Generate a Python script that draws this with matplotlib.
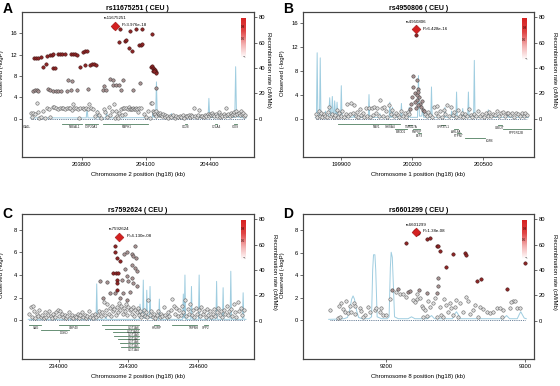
import matplotlib
matplotlib.use("Agg")
import matplotlib.pyplot as plt
import numpy as np
from matplotlib.colors import LinearSegmentedColormap

plt.rcParams['font.family'] = ['Liberation Sans', 'DejaVu Sans']

# ---------------- panel A : rs11675251, chr2 ----------------
a_lead = (203955, 17.4)
a_hi = [(203580, 11.3), (203588, 11.3), (203596, 11.3), (203621, 9.7), (203634, 10.2), (203610, 11.5),
        (203640, 11.8), (203652, 11.9), (203660, 12.0), (203668, 12.1), (203668, 9.5), (203676, 9.5),
        (203691, 12.1), (203700, 12.1), (203710, 12.1), (203722, 12.2), (203753, 12.1), (203762, 12.1),
        (203770, 12.1), (203777, 12.0), (203792, 9.7), (203808, 12.5), (203818, 12.7), (203826, 12.6),
        (203815, 10.0), (203839, 10.1), (203848, 10.3), (203858, 10.2), (203866, 10.1),
        (203950, 17.2), (203958, 17.5), (203962, 17.3), (203982, 16.8), (204025, 16.5), (204053, 16.8),
        (204084, 16.8), (204128, 15.8), (203976, 14.4), (204003, 14.6), (204010, 14.8), (204022, 13.2),
        (204038, 12.7), (204069, 13.8), (204076, 13.9), (204084, 14.0),
        (204126, 9.7), (204130, 9.8), (204135, 9.5), (204140, 9.3), (204143, 9.1), (204147, 8.8),
        (204150, 8.5), (204132, 9.0), (204137, 8.9)]
a_mid = [(203575, 5.2), (203583, 5.4), (203590, 5.3), (203598, 5.1), (203645, 5.6), (203652, 5.4),
         (203668, 5.2), (203680, 5.2), (203692, 5.2), (203705, 5.2), (203730, 5.2), (203738, 7.2),
         (203755, 7.1), (203753, 5.3), (203777, 5.3), (203831, 5.5), (203901, 5.4), (203916, 5.4),
         (203932, 7.4), (203948, 7.2), (203995, 7.2), (203948, 6.3), (203960, 6.3), (203975, 6.3),
         (203985, 5.3), (204041, 5.3), (204072, 6.6), (204147, 5.7), (203905, 6.2)]
a_lo = [(203562, 1.0), (203570, 0.3), (203575, 1.1), (203582, 0.9), (203590, 2.9), (203595, 1.2),
        (203603, 0.2), (203612, 0.3), (203620, 1.4), (203628, 0.1), (203640, 2.0), (203648, 1.8),
        (203655, 0.3), (203665, 2.2), (203672, 2.1), (203680, 1.9), (203690, 1.8), (203700, 1.9),
        (203708, 2.0), (203715, 1.9), (203722, 1.8), (203730, 1.9), (203740, 1.9), (203748, 2.0),
        (203755, 1.6), (203760, 2.8), (203765, 1.9), (203775, 1.9), (203785, 1.8), (203790, 0.2),
        (203795, 1.9), (203805, 1.9), (203812, 1.8), (203820, 1.9), (203830, 1.8), (203835, 2.8),
        (203845, 1.9), (203855, 1.8), (203862, 0.4), (203870, 1.3), (203880, 0.6), (203890, 0.2),
        (203905, 1.8), (203912, 1.2), (203920, 0.3), (203928, 2.1), (203935, 0.6), (203942, 1.4),
        (203950, 2.8), (203955, 0.2), (203960, 1.5), (203965, 0.5), (203970, 0.2), (203975, 1.1),
        (203985, 1.8), (203990, 0.6), (203995, 2.0), (204000, 1.9), (204005, 0.8), (204010, 1.9),
        (204015, 1.8), (204020, 2.2), (204025, 1.8), (204030, 1.8), (204035, 1.8), (204040, 1.9),
        (204045, 1.8), (204050, 1.8), (204055, 1.9), (204060, 1.8), (204065, 1.2), (204070, 1.9),
        (204080, 2.0), (204090, 0.8), (204100, 0.3), (204110, 1.4), (204118, 0.2),
        (204125, 2.9), (204130, 3.0), (204135, 1.4), (204138, 0.8), (204140, 1.2), (204145, 0.9),
        (204148, 1.5), (204150, 0.4), (204155, 1.1), (204160, 0.6), (204163, 0.9), (204168, 1.0),
        (204172, 0.7), (204178, 0.5), (204182, 0.8), (204188, 0.6), (204192, 0.3), (204198, 0.5),
        (204205, 0.2), (204212, 0.4), (204220, 0.3), (204228, 0.6), (204235, 0.2), (204242, 0.4),
        (204250, 0.3), (204258, 0.5), (204265, 0.3), (204272, 0.6), (204280, 0.2), (204288, 0.5),
        (204295, 0.4), (204300, 0.7), (204305, 0.3), (204310, 0.6), (204318, 0.4), (204325, 2.0),
        (204330, 0.5), (204338, 0.3), (204345, 0.6), (204350, 1.6), (204356, 0.4), (204362, 0.5),
        (204370, 0.3), (204376, 0.6), (204382, 0.4), (204390, 0.8), (204395, 0.5), (204400, 0.9),
        (204405, 0.6), (204410, 1.0), (204415, 0.7), (204420, 0.4), (204428, 0.8), (204435, 0.5),
        (204440, 1.3), (204446, 0.3), (204452, 0.6), (204458, 0.5), (204465, 0.8), (204470, 0.4),
        (204475, 2.0), (204480, 0.6), (204486, 0.8), (204492, 0.5), (204498, 1.0), (204503, 0.7),
        (204508, 0.9), (204513, 1.2), (204518, 0.6), (204523, 1.4), (204528, 0.8), (204535, 1.1),
        (204540, 0.6), (204545, 1.5), (204550, 0.8), (204556, 1.0), (204560, 0.4), (204565, 0.7)]
a_rec = [(203560, 0.6), (203822, 0.6), (203826, 8), (203830, 0.6), (203872, 0.6), (203875, 6.5),
         (203879, 0.6), (203914, 0.6), (203917, 6), (203921, 0.6), (204130, 0.8), (204134, 5),
         (204138, 1), (204146, 1), (204150, 29), (204154, 1.5), (204216, 0.8), (204220, 4),
         (204224, 0.8), (204391, 0.8), (204395, 16), (204399, 0.8), (204433, 0.8), (204437, 4),
         (204441, 0.8), (204516, 1), (204520, 41), (204524, 1.5), (204534, 1), (204538, 3),
         (204542, 0.8), (204570, 0.6)]
# name, start, end, line y, label x, label y
a_genes = [("ICA1L", 203540, 203541, -1.05, 203545, -1.6), ("NBEAL1", 203707, 203800, -1.05, 203769, -1.6),
           ("CYP20A1", 203815, 203876, -1.05, 203847, -1.6), ("RAPH1", 203900, 204110, -1.05, 204010, -1.6),
           ("CD28", 204282, 204293, -1.05, 204287, -1.6), ("CTLA4", 204425, 204434, -1.05, 204430, -1.6),
           ("ICOS", 204514, 204527, -1.05, 204520, -1.6)]

# ---------------- panel B : rs4950806, chr1 ----------------
b_lead = (200215, 14.9)
b_hi = [(200215, 13.9)]
b_mid = [(200204, 7.2), (200218, 6.4), (200222, 5.0), (200212, 4.2), (200200, 3.6), (200218, 3.1),
         (200230, 3.6), (200196, 2.5), (200232, 2.5), (200238, 2.0), (200245, 1.4), (200221, 3.9),
         (200226, 4.5), (200205, 5.2), (200210, 2.8), (200225, 2.2), (200215, 1.8), (200190, 1.6),
         (200240, 3.0), (200250, 1.2)]
b_lo = [(199792, 0.8), (199798, 0.2), (199805, 1.2), (199810, 0.4), (199815, 0.9), (199820, 0.3),
        (199826, 0.7), (199832, 0.5), (199838, 0.2), (199845, 1.1), (199850, 2.0), (199855, 0.4),
        (199862, 0.8), (199868, 0.3), (199875, 0.6), (199880, 1.4), (199885, 0.2), (199892, 0.9),
        (199898, 0.5), (199905, 1.2), (199912, 0.3), (199918, 0.7), (199924, 2.4), (199930, 0.4),
        (199935, 0.8), (199942, 2.6), (199948, 1.0), (199955, 2.3), (199960, 0.5), (199966, 1.1),
        (199972, 0.3), (199978, 1.6), (199985, 0.6), (199990, 0.9), (199996, 0.2), (200003, 1.8),
        (200010, 0.5), (200015, 1.8), (200022, 0.3), (200028, 1.8), (200034, 0.6), (200040, 1.9),
        (200046, 1.0), (200052, 1.8), (200058, 0.4), (200064, 3.1), (200070, 1.8), (200076, 0.5),
        (200082, 1.9), (200088, 1.2), (200094, 0.3), (200100, 2.2), (200108, 0.7), (200115, 1.5),
        (200122, 0.4), (200130, 1.0), (200138, 0.6), (200145, 0.2), (200152, 1.3), (200160, 0.5),
        (200168, 0.9), (200175, 0.3), (200182, 1.1), (200186, 0.7),
        (200255, 0.8), (200262, 0.4), (200268, 1.1), (200275, 0.6), (200282, 0.3), (200290, 2.0),
        (200298, 0.9), (200304, 2.1), (200310, 0.5), (200318, 1.2), (200325, 0.3), (200332, 1.5),
        (200340, 0.7), (200348, 2.2), (200355, 0.4), (200362, 1.9), (200370, 0.6), (200378, 1.1),
        (200385, 0.3), (200392, 1.4), (200400, 0.5), (200408, 0.9), (200415, 0.3), (200422, 0.7),
        (200430, 0.4), (200438, 1.6), (200446, 0.6), (200454, 0.3), (200462, 0.8), (200470, 0.5),
        (200478, 1.2), (200486, 0.4), (200494, 0.7), (200502, 0.3), (200510, 0.9), (200518, 0.5),
        (200526, 1.1), (200534, 0.4), (200542, 0.8), (200550, 0.6), (200558, 1.3), (200566, 0.5),
        (200574, 1.0), (200582, 1.1), (200590, 0.4), (200598, 1.0), (200606, 1.0), (200614, 0.6),
        (200622, 1.0), (200630, 0.3), (200638, 1.0), (200646, 0.8), (200654, 0.5), (200662, 1.0),
        (200670, 0.4), (200678, 0.9), (200686, 0.6)]
b_rec = [(199790, 0.8), (199795, 0.8), (199798, 52), (199801, 1), (199808, 1), (199811, 48), (199814, 1),
         (199830, 1), (199833, 6), (199836, 1), (199846, 1), (199851, 16.5), (199855, 3), (199859, 3),
         (199862, 17.5), (199866, 3), (199869, 3), (199872, 14), (199876, 2), (199879, 2), (199882, 13),
         (199886, 1), (199897, 1), (199900, 26), (199903, 1), (199950, 1), (199953, 5), (199956, 1),
         (200014, 1), (200017, 19), (200020, 1), (200060, 1), (200063, 4), (200066, 1), (200102, 1),
         (200105, 13), (200108, 1), (200113, 1), (200116, 9), (200119, 1), (200151, 1), (200154, 12),
         (200157, 1), (200184, 1), (200187, 9), (200190, 1), (200222, 1), (200226, 34), (200230, 2),
         (200240, 2), (200244, 8), (200248, 1), (200278, 1), (200281, 25), (200284, 1), (200335, 1),
         (200338, 9), (200341, 1), (200363, 1), (200366, 6), (200369, 1), (200384, 1), (200387, 21),
         (200390, 1), (200410, 1), (200413, 8), (200416, 1), (200434, 1), (200437, 21), (200440, 1),
         (200459, 1), (200462, 46), (200465, 1), (200518, 1), (200521, 7), (200524, 1), (200560, 1),
         (200563, 3), (200566, 1), (200600, 1), (200603, 4), (200606, 1), (200650, 1), (200653, 3),
         (200656, 1), (200690, 0.8)]
b_genes = [("NAV1", 199886, 200146, -0.95, 200048, -1.4), ("SHISA4", 200100, 200108, -0.95, 200106, -1.4),
           ("LMOD1", 200128, 200178, -1.75, 200153, -2.2), ("TIMM17A", 200180, 200200, -1.0, 200196, -1.4),
           ("RNPEP", 200205, 200232, -1.65, 200219, -2.2), ("ELF3", 200226, 200236, -2.45, 200231, -2.9),
           ("GPR37L1", 200320, 200340, -1.0, 200329, -1.4), ("ARL8A", 200375, 200392, -1.75, 200383, -2.2),
           ("PTPN7", 200390, 200405, -2.4, 200397, -2.9), ("LGR6", 200421, 200506, -3.3, 200526, -3.8),
           ("UBE2T", 200560, 200578, -1.1, 200569, -1.6), ("PPP1R12B", 200583, 200700, -1.8, 200639, -2.35)]

# ---------------- panel C : rs7592624, chr2 ----------------
c_lead = (234261, 7.4)
c_hi = [(234243, 6.6), (234243, 6.0), (234253, 5.5), (234264, 5.2), (234236, 4.2), (234247, 4.2),
        (234257, 4.2), (234250, 3.6), (234253, 3.3), (234250, 2.7)]
c_mid = [(234281, 5.9), (234293, 6.0), (234314, 5.9), (234329, 6.6), (234321, 5.7), (234333, 5.5),
         (234314, 4.9), (234329, 4.6), (234336, 4.4), (234286, 4.5), (234271, 3.6), (234300, 3.5),
         (234293, 3.9), (234314, 3.7), (234321, 3.3), (234336, 3.0), (234243, 2.4), (234293, 1.8),
         (234264, 2.0), (234207, 3.4), (234179, 3.5), (234221, 2.4), (234193, 2.0), (234307, 2.5),
         (234279, 2.4)]
c_lo = [(233875, 0.6), (233880, 1.2), (233886, 0.3), (233890, 1.3), (233895, 0.8), (233900, 0.2),
        (233906, 0.6), (233912, 0.4), (233918, 0.9), (233924, 0.3), (233930, 0.5), (233936, 0.2),
        (233942, 0.7), (233948, 0.3), (233955, 0.5), (233960, 0.8), (233966, 0.4), (233972, 0.2),
        (233978, 0.6), (233985, 0.3), (233990, 0.7), (233996, 0.9), (234002, 0.4), (234008, 0.8),
        (234014, 0.6), (234020, 0.3), (234026, 0.5), (234032, 0.2), (234038, 0.4), (234045, 0.7),
        (234052, 0.3), (234058, 0.5), (234064, 0.2), (234070, 0.4), (234076, 0.3), (234082, 0.6),
        (234088, 0.2), (234094, 0.5), (234100, 0.7), (234106, 0.3), (234112, 0.5), (234118, 0.2),
        (234124, 0.4), (234130, 0.8), (234136, 0.3), (234142, 0.5), (234148, 0.2), (234155, 0.6),
        (234162, 0.3), (234168, 0.5), (234175, 0.8), (234182, 0.4), (234188, 0.7), (234195, 1.6),
        (234200, 0.5), (234205, 0.9), (234210, 1.4), (234215, 0.6), (234220, 1.1), (234225, 0.4),
        (234230, 1.3), (234235, 0.8), (234240, 1.0), (234245, 0.5), (234250, 1.2), (234255, 0.7),
        (234260, 1.5), (234265, 0.9), (234270, 1.3), (234275, 0.6), (234280, 1.1), (234285, 0.8),
        (234290, 1.4), (234295, 0.5), (234300, 1.2), (234305, 0.9), (234310, 1.0), (234315, 0.6),
        (234320, 1.2), (234325, 0.4), (234330, 0.9), (234335, 0.7), (234340, 1.1), (234345, 0.5),
        (234350, 0.8), (234355, 0.3), (234360, 0.6), (234365, 0.9), (234370, 0.4), (234375, 0.7),
        (234380, 0.3), (234386, 1.8), (234392, 0.5), (234398, 0.8), (234404, 0.3), (234410, 0.6),
        (234416, 0.2), (234422, 0.5), (234428, 0.8), (234434, 0.3), (234440, 0.6), (234446, 0.4),
        (234452, 1.2), (234458, 0.5), (234464, 0.3), (234470, 0.7), (234476, 0.4), (234482, 0.9),
        (234488, 1.9), (234494, 1.3), (234500, 0.6), (234506, 1.1), (234512, 0.4), (234518, 0.9),
        (234524, 0.5), (234530, 1.3), (234536, 0.7), (234542, 1.8), (234548, 0.4), (234554, 1.0),
        (234560, 0.6), (234566, 1.4), (234572, 0.5), (234578, 0.9), (234584, 0.3), (234590, 1.1),
        (234596, 0.6), (234602, 0.9), (234608, 0.4), (234614, 1.2), (234620, 0.6), (234626, 0.8),
        (234632, 0.3), (234638, 1.0), (234644, 0.5), (234650, 0.8), (234656, 0.3), (234662, 0.6),
        (234668, 1.0), (234674, 0.4), (234680, 0.7), (234686, 1.1), (234692, 0.5), (234698, 0.8),
        (234704, 0.3), (234710, 0.9), (234716, 0.6), (234722, 1.3), (234728, 0.5), (234734, 0.8),
        (234740, 1.0), (234746, 0.4), (234752, 1.4), (234758, 0.7), (234764, 0.3), (234770, 1.6),
        (234776, 0.8), (234782, 1.1), (234788, 0.5), (234795, 0.9)]
c_rec = [(233870, 1), (233930, 1), (233933, 3), (233936, 1), (234161, 1), (234164, 29), (234167, 1),
         (234200, 1), (234203, 4), (234206, 1), (234347, 1), (234350, 13), (234353, 2), (234361, 2),
         (234364, 32), (234367, 2), (234376, 2), (234379, 24), (234382, 2), (234390, 2), (234393, 27),
         (234396, 2), (234430, 1), (234433, 17), (234436, 1), (234470, 1), (234473, 5), (234476, 1),
         (234533, 1), (234536, 21), (234539, 2), (234540, 2), (234543, 36), (234546, 1), (234568, 1),
         (234571, 27), (234574, 1), (234601, 1), (234604, 36), (234607, 1), (234640, 1), (234643, 6),
         (234646, 1), (234676, 1), (234679, 31), (234682, 1), (234704, 1), (234707, 26), (234710, 1),
         (234737, 1), (234740, 39), (234743, 1), (234790, 1), (234793, 22), (234796, 1), (234805, 1)]
c_genes = [("SAG", 233873, 233923, -0.41, 233901, -0.68), ("DGKD", 233923, 234045, -0.88, 234023, -1.15),
           ("USP40", 234002, 234130, -0.41, 234066, -0.68),
           ("UGT1A8", 234187, 234345, -0.41, 234323, -0.68), ("UGT1A10", 234200, 234345, -0.73, 234323, -1.0),
           ("UGT1A9", 234232, 234345, -1.05, 234323, -1.32), ("UGT1A7", 234240, 234345, -1.37, 234323, -1.64),
           ("UGT1A6", 234255, 234345, -1.69, 234323, -1.96), ("UGT1A5", 234262, 234345, -2.01, 234323, -2.28),
           ("UGT1A4", 234270, 234345, -2.33, 234323, -2.6),
           ("HJURP", 234412, 234432, -0.41, 234423, -0.68), ("TRPM8", 234487, 234594, -0.41, 234580, -0.68),
           ("SPP2", 234625, 234642, -0.41, 234633, -0.68)]

# ---------------- panel D : rs6601299, chr8 ----------------
d_lead = (9221.6, 7.85)
d_hi = [(9220.9, 7.97), (9222.1, 7.74), (9223.0, 7.8), (9214.9, 6.9), (9229.3, 7.2), (9231.7, 7.3),
        (9236.5, 6.6), (9237.7, 6.6), (9238.8, 6.2), (9248.4, 5.9), (9256.8, 6.0), (9258.0, 5.8),
        (9243.0, 4.7), (9265.7, 3.5), (9268.8, 3.7), (9286.8, 2.8), (9300.0, 5.1)]
d_mid = [(9237.6, 3.75), (9237.6, 3.07), (9204.8, 2.71), (9224.0, 2.71), (9208.9, 2.74), (9229.3, 2.41),
         (9236.5, 2.41), (9216.1, 2.47), (9217.7, 2.56)]
d_lo = [(9159.7, 0.92), (9169.3, 1.01), (9170.5, 0.77), (9172.9, 0.63), (9175.3, 0.77), (9177.7, 0.54),
        (9181.3, 1.07), (9182.5, 0.86), (9188.5, 0.74), (9192.1, 0.92), (9195.7, 0.71), (9198.1, 0.48),
        (9200.5, 0.48), (9202.9, 1.88), (9207.7, 2.47), (9210.1, 2.32), (9212.5, 2.35), (9214.9, 2.11),
        (9219.7, 1.82), (9220.9, 1.61), (9222.1, 2.32), (9222.5, 1.88), (9224.5, 1.96), (9225.7, 1.28),
        (9226.9, 1.07), (9228.1, 0.92), (9230.0, 1.67), (9231.7, 1.22), (9234.1, 1.52), (9235.3, 1.96),
        (9238.8, 1.22), (9240.0, 0.48), (9241.2, 0.33), (9241.7, 1.88), (9243.6, 1.37), (9244.8, 0.77),
        (9246.0, 1.52), (9247.2, 1.07), (9248.4, 0.48), (9249.6, 1.22), (9250.8, 1.82), (9252.0, 0.33),
        (9253.2, 1.52), (9255.6, 0.77), (9257.6, 2.11), (9259.2, 1.67), (9260.4, 0.57), (9262.8, 0.92),
        (9264.0, 1.37), (9267.6, 1.22), (9270.0, 0.98), (9272.4, 0.77), (9274.8, 0.63), (9277.2, 0.77),
        (9279.6, 1.07), (9282.0, 1.07), (9284.4, 0.92), (9289.2, 1.07), (9291.6, 1.67), (9292.8, 1.67),
        (9294.5, 1.07), (9296.4, 1.07), (9171.7, 1.67), (9174.1, 1.28), (9177.0, 1.52), (9178.2, 1.28),
        (9168.1, 1.52), (9166.4, 1.28), (9187.3, 1.22), (9193.3, 1.07), (9196.9, 1.07), (9184.9, 0.48),
        (9183.7, 0.33), (9165.7, 0.18), (9166.9, 0.33), (9236.5, 0.27), (9226.9, 0.33), (9229.3, 0.39),
        (9266.4, 0.33), (9283.2, 0.33), (9289.8, 1.6)]
d_rec = [(9159, 1), (9165, 1.2), (9170, 1.5), (9172.5, 2.5), (9174, 8), (9175.5, 17), (9176.5, 19.5),
         (9177.5, 17), (9179, 8), (9180.5, 2.5), (9183, 1.5), (9188, 1.5), (9189.8, 3), (9190.6, 40),
         (9191.2, 52), (9192.2, 52), (9192.8, 40), (9193.8, 3), (9197, 1.5), (9201, 1.5), (9202.4, 3),
         (9203.3, 42), (9203.9, 54), (9204.7, 50), (9205.4, 30), (9206.3, 3), (9209, 1.5), (9216, 1.5),
         (9218.5, 3), (9221, 1.5), (9230, 1.5), (9232.9, 4), (9235, 1.5), (9248, 1.5), (9249.5, 5),
         (9250.8, 7), (9252, 5), (9253.5, 1.5), (9270, 1.5), (9284.5, 1.5), (9286.8, 4), (9289, 1.5),
         (9294.5, 1.5), (9296, 5), (9297, 7), (9298, 5), (9299.5, 2), (9301, 1.5)]
d_genes = []

HI_FILL, HI_EDGE = '#8e2626', '#3a1010'
MID_FILL, MID_EDGE = '#a89292', '#3c3c3c'
LO_FILL, LO_EDGE = '#dcdcdc', '#555555'
REC_COLOR = '#9fcde0'
GENE_COLOR = '#4f7f5f'
ld_cmap = LinearSegmentedColormap.from_list('ld', ['#ffffff', '#f3b0b0', '#e04444', '#d62222'])


def draw_panel(ax, letter, title, chrom, xlim, ylim, yticks, xticks,
               lo, mid, hi, lead, lead_name, lead_p, rec, genes, bar_box, rlab_x, letter_xy):
    ax2 = ax.twinx()
    rx, rr = zip(*rec)
    ax2.plot(rx, rr, color=REC_COLOR, lw=0.7)
    ax2.set_ylim(-30.3, 84.2)
    ax2.set_yticks([0, 20, 40, 60, 80])
    ax2.set_ylabel('Recombination rate (cM/Mb)', rotation=270, fontsize=4.3)
    ax2.yaxis.set_label_coords(rlab_x, 0.6)
    ax.set_zorder(ax2.get_zorder() + 1)
    ax.patch.set_visible(False)

    allx = [p[0] for p in lo + mid + hi] + [lead[0]]
    ax.plot([min(allx), max(allx)], [0, 0], ls=(0, (1, 1.2)), color='#3d5a7a', lw=0.6, zorder=1)

    for pts, fc, ec in ((lo, LO_FILL, LO_EDGE), (mid, MID_FILL, MID_EDGE), (hi, HI_FILL, HI_EDGE)):
        if pts:
            x, y = zip(*pts)
            ax.scatter(x, y, s=6, c=fc, edgecolors=ec, linewidths=0.35, zorder=3)
    ax.scatter([lead[0]], [lead[1]], marker='D', s=20, c='#d42020', edgecolors='#a01010',
               linewidths=0.4, zorder=5)
    ax.annotate(lead_name, lead, xytext=(0, 4), textcoords='offset points', ha='center',
                va='bottom', fontsize=3.2)
    ax.annotate(lead_p, lead, xytext=(5, 0.5), textcoords='offset points', ha='left',
                va='center', fontsize=3.2)

    for name, s, e, gy, lx, ly in genes:
        ax.plot([s, e], [gy, gy], color=GENE_COLOR, lw=0.6, zorder=2)
        ax.text(lx, ly, name, fontsize=2.2, ha='center', va='center', color='#222222')

    ax.set_xlim(*xlim)
    ax.set_ylim(*ylim)
    ax.set_yticks(yticks)
    ax.set_xticks(xticks)
    ax.set_xticklabels([str(t) for t in xticks])
    ax.set_ylabel('Observed (-logP)', fontsize=4.3)
    ax.yaxis.set_label_coords(-0.078, 0.58)
    ax.set_xlabel('Chromosome %d position (hg18) (kb)' % chrom, fontsize=4.3, labelpad=4)
    ax.set_title(title, fontsize=5, fontweight='bold', pad=1.5)
    for a in (ax, ax2):
        a.tick_params(labelsize=4.2, length=2, width=0.5, pad=1.5, color='#333333')
        for sp in a.spines.values():
            sp.set_color('#444444')
            sp.set_linewidth(0.8)

    bar = ax.inset_axes(bar_box)
    bar.imshow(np.linspace(0, 1, 60).reshape(-1, 1), aspect='auto', cmap=ld_cmap, origin='lower')
    bar.set_axis_off()
    bar.text(0.5, 0.77, '0.8', transform=bar.transAxes, ha='center', va='center', fontsize=2.2,
             color='#300000')
    bar.text(0.5, 0.48, '0.5', transform=bar.transAxes, ha='center', va='center', fontsize=2.2,
             color='#300000')
    bar.text(0.5, 0.05, 'r\u00b2', transform=bar.transAxes, ha='center', va='center', fontsize=2.6,
             rotation=270, color='#222222')

    ax.figure.text(letter_xy[0], letter_xy[1], letter, fontsize=10, fontweight='bold',
                   ha='left', va='top')


fig = plt.figure(figsize=(5.6, 3.86), dpi=100)
axA = fig.add_axes([0.0393, 0.5933, 0.414, 0.3756])
axB = fig.add_axes([0.541, 0.5933, 0.4125, 0.3756])
axC = fig.add_axes([0.0393, 0.07, 0.414, 0.3756])
axD = fig.add_axes([0.541, 0.07, 0.4125, 0.3756])

draw_panel(axA, 'A', 'rs11675251 ( CEU )', 2, (203522, 204605), (-7.2, 20), [0, 4, 8, 12, 16],
           [203800, 204100, 204400], a_lo, a_mid, a_hi, a_lead, 'rs11675251', 'P=3.976e-18',
           a_rec, a_genes, [0.943, 0.683, 0.018, 0.276], 1.072, (0.004, 0.995))
draw_panel(axB, 'B', 'rs4950806 ( CEU )', 1, (199738, 200714), (-6.4, 17.8), [0, 4, 8, 12, 16],
           [199900, 200200, 200500], b_lo, b_mid, b_hi, b_lead, 'rs4950806', 'P=6.428e-16',
           b_rec, b_genes, [0.949, 0.67, 0.02, 0.287], 1.098, (0.505, 0.995))
draw_panel(axC, 'C', 'rs7592624 ( CEU )', 2, (233843, 234839), (-3.42, 9.4), [0, 2, 4, 6, 8],
           [234000, 234300, 234600], c_lo, c_mid, c_hi, c_lead, 'rs7592624', 'P=4.130e-08',
           c_rec, c_genes, [0.943, 0.685, 0.02, 0.272], 1.098, (0.004, 0.465))
draw_panel(axD, 'D', 'rs6601299 ( CEU )', 8, (9140.5, 9306.5), (-3.45, 9.46), [0, 2, 4, 6, 8],
           [9200, 9300], d_lo, d_mid, d_hi, d_lead, 'rs6601299', 'P=1.38e-08',
           d_rec, d_genes, [0.949, 0.69, 0.02, 0.268], 1.098, (0.505, 0.465))

fig.savefig('out.png', dpi=100)
